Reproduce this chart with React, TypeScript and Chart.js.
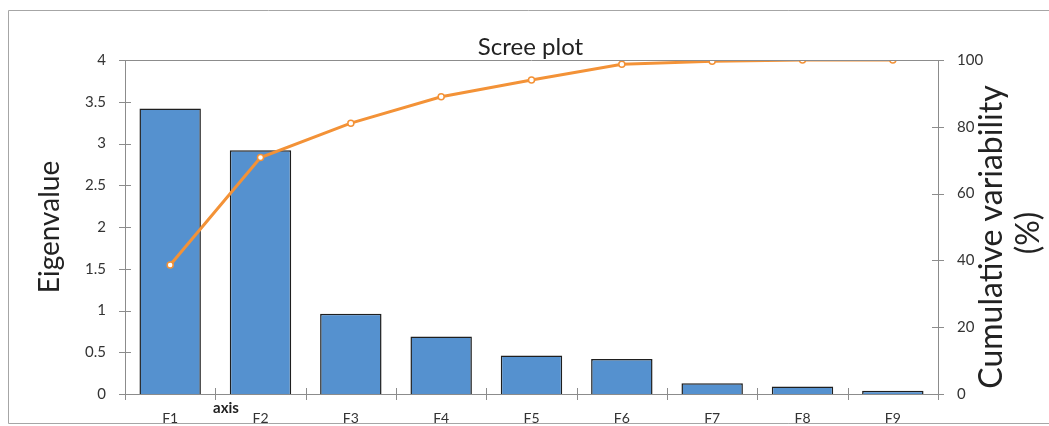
import React, { useEffect, useRef } from "react";
import { Chart, registerables } from "chart.js";

Chart.register(...registerables);

const categories = ["F1", "F2", "F3", "F4", "F5", "F6", "F7", "F8", "F9"];
const eigenvalues = [3.42, 2.92, 0.96, 0.69, 0.46, 0.42, 0.13, 0.09, 0.04];
const cumulative = [38.6, 70.8, 81.1, 89.0, 94.0, 98.7, 99.6, 100, 100];
const chartTitle = "Scree plot";
const leftTitle = "Eigenvalue";
const rightTitle = ["Cumulative variability", "(%)"];
const strayLabel = "axis";

const FONT = "Lato, 'Open Sans', sans-serif";
const AXIS = "#8c8c8c";

const decor = {
  id: "decor",
  afterDraw(chart: any) {
    const { ctx, chartArea, scales } = chart;
    const x = scales.x;
    const y = scales.y;
    const y1 = scales.y1;
    ctx.save();
    // top border of plot area
    ctx.strokeStyle = AXIS;
    ctx.lineWidth = 1;
    ctx.beginPath();
    ctx.moveTo(chartArea.left, Math.round(chartArea.top) + 0.5);
    ctx.lineTo(chartArea.right, Math.round(chartArea.top) + 0.5);
    ctx.stroke();
    // crossing tick marks
    ctx.beginPath();
    y.ticks.forEach((t: any) => {
      const p = Math.round(y.getPixelForValue(t.value)) + 0.5;
      ctx.moveTo(chartArea.left - 6, p);
      ctx.lineTo(chartArea.left + 6, p);
    });
    y1.ticks.forEach((t: any) => {
      const p = Math.round(y1.getPixelForValue(t.value)) + 0.5;
      ctx.moveTo(chartArea.right - 6, p);
      ctx.lineTo(chartArea.right + 6, p);
    });
    const step = x.getPixelForValue(1) - x.getPixelForValue(0);
    for (let i = 0; i <= categories.length; i++) {
      const p = i < categories.length ? x.getPixelForValue(i) - step / 2 : chartArea.right;
      const px = Math.round(p) + 0.5;
      ctx.moveTo(px, chartArea.bottom - 6);
      ctx.lineTo(px, chartArea.bottom + 6);
    }
    ctx.stroke();
    // main title
    ctx.fillStyle = "#222";
    ctx.font = `24px ${FONT}`;
    ctx.textAlign = "center";
    ctx.textBaseline = "alphabetic";
    ctx.fillText(chartTitle, (chartArea.left + chartArea.right) / 2 - 1, 55);
    // right title (rotated, reading bottom to top)
    const cy = 237;
    ctx.font = `32px ${FONT}`;
    ctx.textBaseline = "middle";
    ctx.save();
    ctx.translate(992, cy);
    ctx.rotate(-Math.PI / 2);
    ctx.fillText(rightTitle[0], 0, 0);
    ctx.restore();
    ctx.save();
    ctx.translate(1029, 233);
    ctx.rotate(-Math.PI / 2);
    ctx.fillText(rightTitle[1], 0, 0);
    ctx.restore();
    // stray "axis" label
    ctx.font = `bold 15px ${FONT}`;
    ctx.textAlign = "center";
    ctx.textBaseline = "middle";
    ctx.fillText(strayLabel, 226, 408);
    // outer frame
    ctx.strokeStyle = "#a6a6a6";
    ctx.lineWidth = 1;
    ctx.beginPath();
    ctx.moveTo(1049, 10.5);
    ctx.lineTo(8.5, 10.5);
    ctx.lineTo(8.5, 423.5);
    ctx.lineTo(1049, 423.5);
    ctx.stroke();
    ctx.restore();
  },
};

export default function App() {
  const ref = useRef<HTMLCanvasElement>(null);
  useEffect(() => {
    if (!ref.current) return;
    const chart = new Chart(ref.current, {
      type: "bar",
      data: {
        labels: categories,
        datasets: [
          {
            type: "line",
            label: "Cumulative variability (%)",
            data: cumulative,
            yAxisID: "y1",
            borderColor: "#f39237",
            borderWidth: 3,
            pointRadius: 3,
            pointBorderWidth: 1.5,
            pointBackgroundColor: "#ffffff",
            pointBorderColor: "#f39237",
            tension: 0,
            order: 0,
          } as any,
          {
            type: "bar",
            label: "Eigenvalue",
            data: eigenvalues,
            yAxisID: "y",
            backgroundColor: "#5591cf",
            borderColor: "#1f1f1f",
            borderWidth: 1.5,
            categoryPercentage: 0.68,
            barPercentage: 1,
            order: 1,
          },
        ],
      },
      options: {
        responsive: false,
        animation: false,
        layout: { padding: { top: 60, left: 0, right: 0, bottom: 0 } },
        plugins: { legend: { display: false }, title: { display: false }, tooltip: { enabled: false } },
        scales: {
          x: {
            offset: true,
            grid: { display: false, drawTicks: false },
            border: { color: AXIS, width: 1 },
            ticks: { color: "#333", padding: 16, font: { family: FONT, size: 14 } },
            afterFit: (s: any) => {
              s.height = 32;
            },
          },
          y: {
            position: "left",
            min: 0,
            max: 4,
            grid: { display: false, drawTicks: false },
            border: { color: AXIS, width: 1 },
            ticks: {
              stepSize: 0.5,
              color: "#333",
              padding: 19,
              font: { family: FONT, size: 15 },
              callback: (v: any) => String(Number(v)),
            },
            title: {
              display: true,
              text: leftTitle,
              color: "#222",
              font: { family: FONT, size: 28, weight: "normal" },
              padding: { top: 33, bottom: 0 },
            },
            afterFit: (s: any) => {
              s.width = 125;
            },
          },
          y1: {
            position: "right",
            min: 0,
            max: 100,
            grid: { display: false, drawTicks: false },
            border: { color: AXIS, width: 1 },
            ticks: { stepSize: 20, color: "#333", padding: 19, font: { family: FONT, size: 15 } },
            afterFit: (s: any) => {
              s.width = 111;
            },
          },
        },
      },
      plugins: [decor],
    });
    return () => chart.destroy();
  }, []);
  return (
    <div style={{ position: "fixed", left: 0, top: 0, width: 1049, height: 426, background: "#fff" }}>
      <canvas ref={ref} width={1049} height={426} style={{ display: "block" }} />
    </div>
  );
}
